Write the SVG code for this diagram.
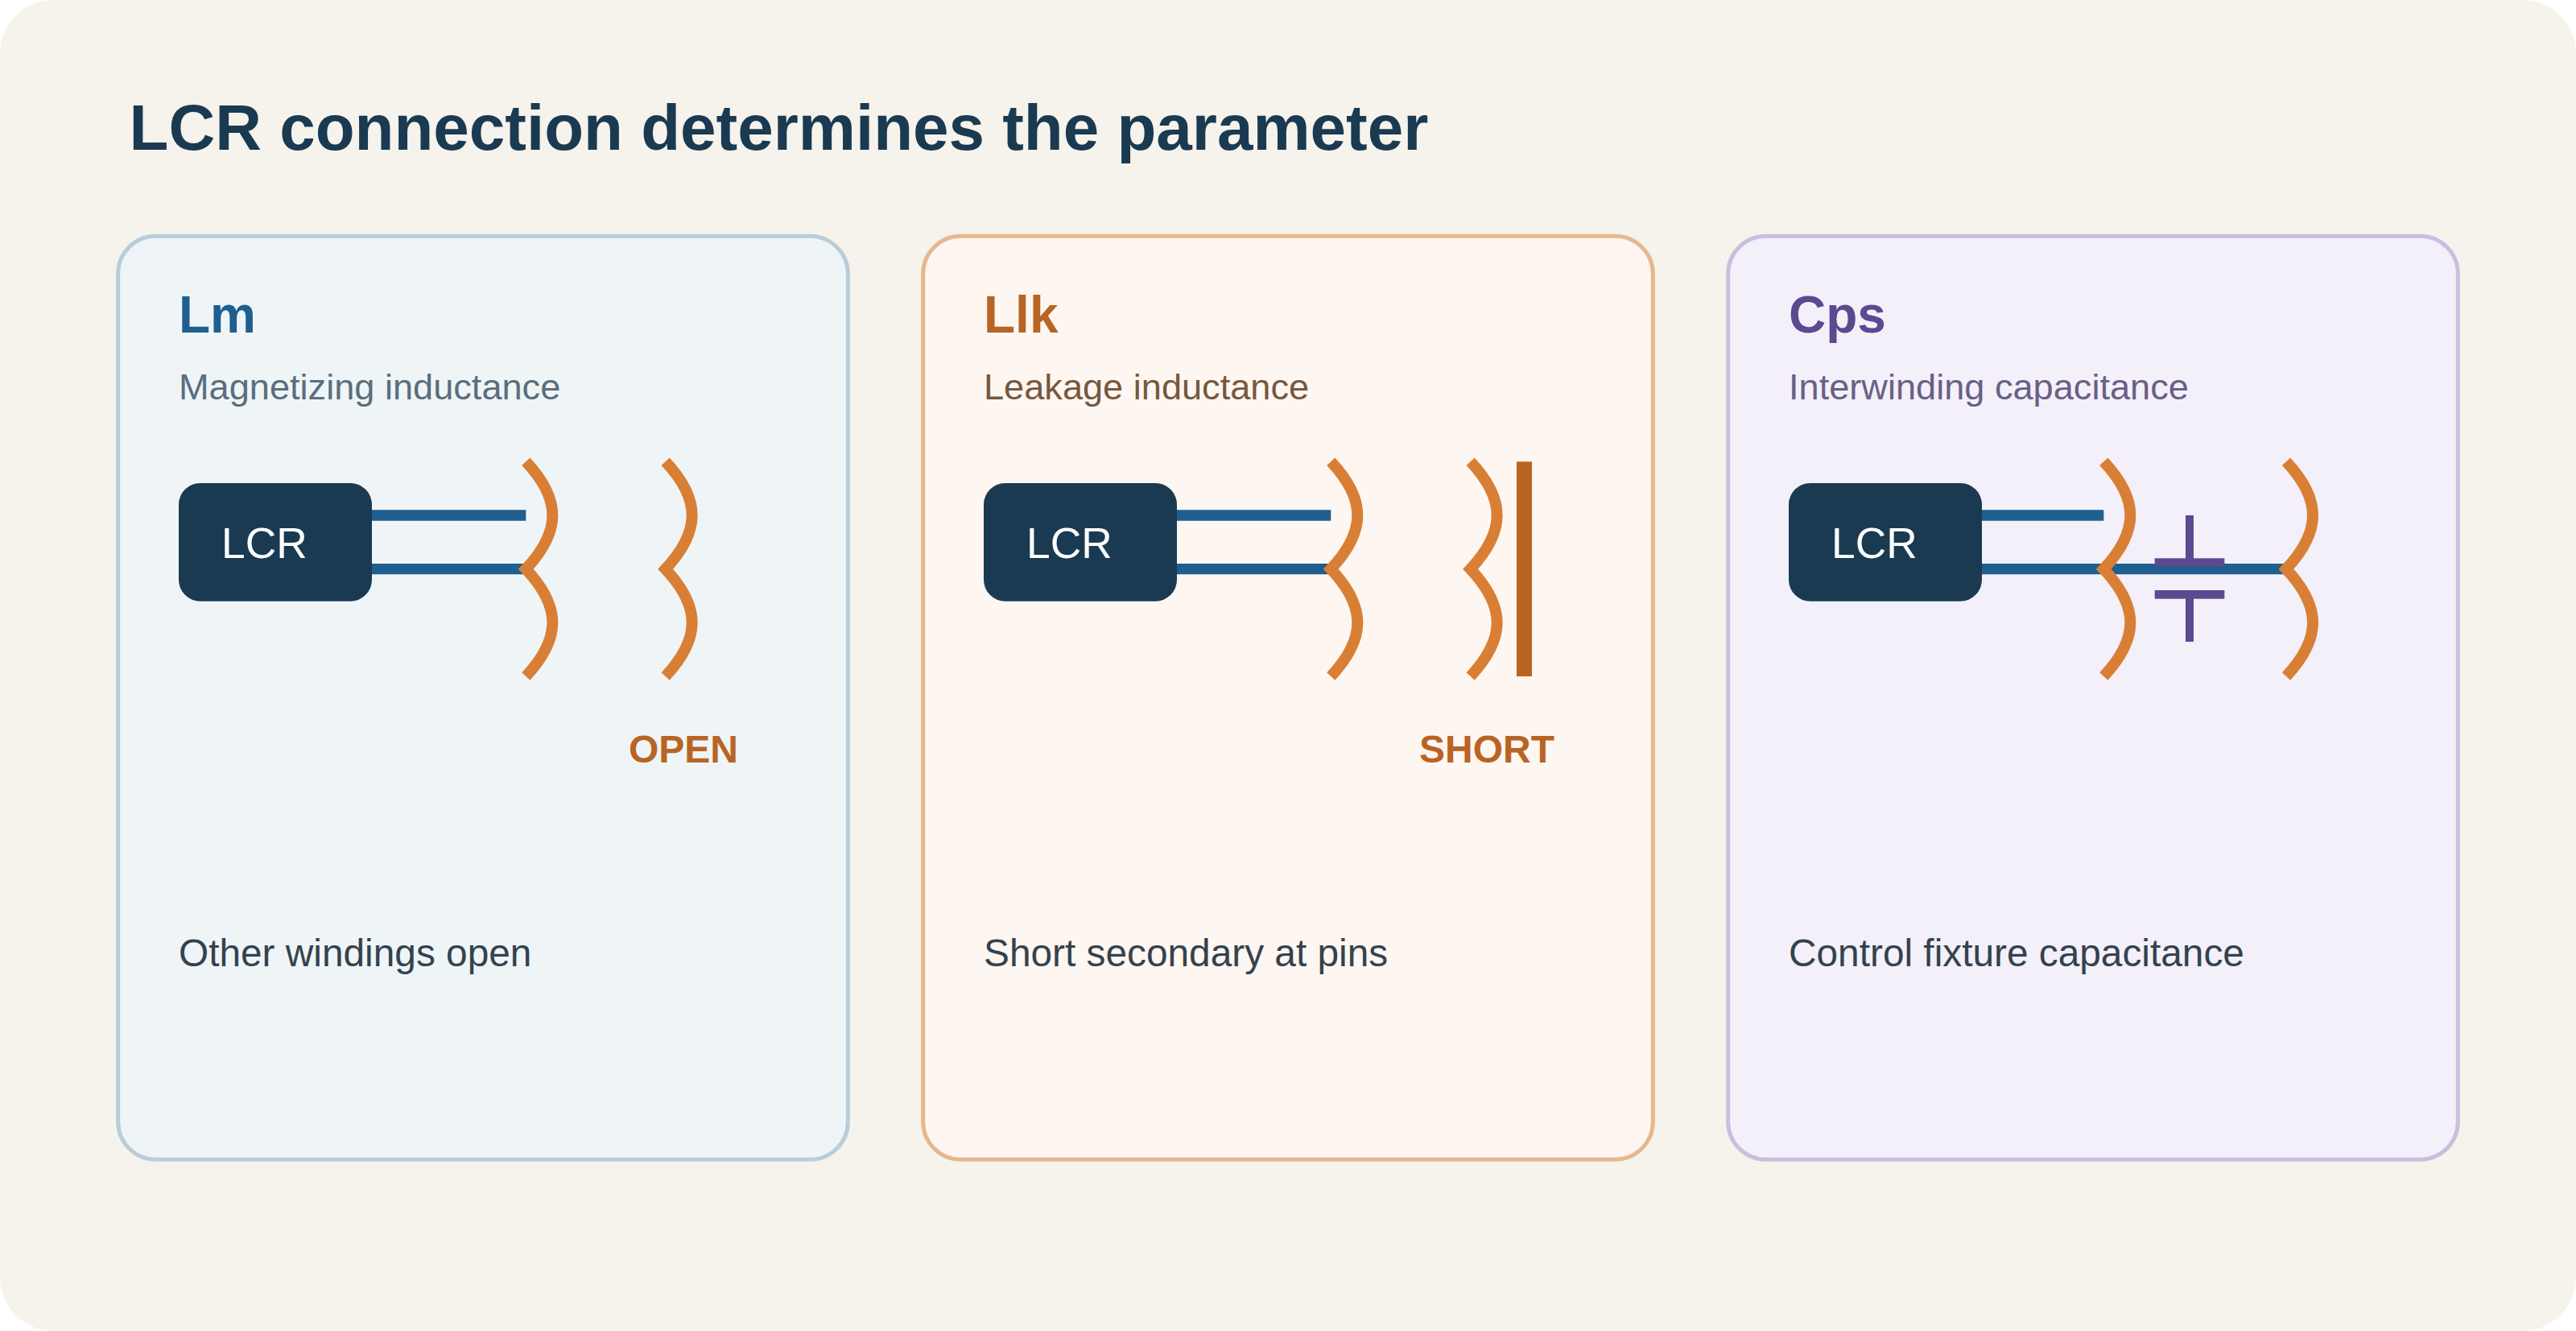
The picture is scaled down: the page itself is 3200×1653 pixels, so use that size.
<svg xmlns="http://www.w3.org/2000/svg" width="3200" height="1653" viewBox="0 0 3200 1653">
<style>
text{font-family:"Liberation Sans",Arial,sans-serif}
.title{font-size:80px;font-weight:700;fill:#1a3a52}
.head{font-size:64px;font-weight:700}
.sub{font-size:45.15px}
.note{font-size:47.8px;fill:#34424e}
.lcr{font-size:53.33px;fill:#fff}
.tag{font-size:48px;font-weight:700;fill:#b86424;text-anchor:middle}
.lead{fill:none;stroke:#1f5f8f;stroke-width:13.33}
.coil{fill:none;stroke:#d97f35;stroke-width:14;stroke-miterlimit:10}
.cap{fill:#5a4a8f}
</style>
<defs>
<path id="coil" class="coil" d="M0 0C44 47 44 86.33 0 133.33C44 180.33 44 219.67 0 266.67"/>
<rect id="box" width="240" height="146.67" rx="26.67" fill="#1a3a52"/>
</defs>
<rect id="background" width="3200" height="1653" rx="66.67" fill="#f6f3ec"/>
<text class="title" x="160.6" y="186">LCR connection determines the parameter</text>
<g id="panel-lm">
<rect x="146.67" y="293.33" width="906.67" height="1146.67" rx="46.67" fill="#eff5f7" stroke="#b8cdd9" stroke-width="5"/>
<text class="head" x="222" y="413" fill="#1f5f8f">Lm</text>
<text class="sub" x="222" y="496" fill="#5a6e7d">Magnetizing inductance</text>
<text class="note" x="222" y="1200">Other windings open</text>
</g>
<g id="panel-llk">
<rect x="1146.67" y="293.33" width="906.67" height="1146.67" rx="46.67" fill="#fef6f0" stroke="#e5b88f" stroke-width="5"/>
<text class="head" x="1222" y="413" fill="#b86424">Llk</text>
<text class="sub" x="1222" y="496" fill="#75583f">Leakage inductance</text>
<text class="note" x="1222" y="1200">Short secondary at pins</text>
</g>
<g id="panel-cps">
<rect x="2146.67" y="293.33" width="906.67" height="1146.67" rx="46.67" fill="#f3f0fa" stroke="#c8bfdf" stroke-width="5"/>
<text class="head" x="2222" y="413" fill="#5a4a8f">Cps</text>
<text class="sub" x="2222" y="496" fill="#6a5f85">Interwinding capacitance</text>
<text class="note" x="2222" y="1200">Control fixture capacitance</text>
</g>
<g id="connectors">
<path class="lead" d="M462 640H653.33M462 706.67H653.33"/>
<path class="lead" d="M1462 640H1653.33M1462 706.67H1653.33"/>
<path class="lead" d="M2462 640H2613.33M2462 706.67H2840"/>
</g>
<g id="lcr-lm"><use href="#box" x="222" y="600"/><text class="lcr" x="275" y="693">LCR</text></g>
<g id="lcr-llk"><use href="#box" x="1222" y="600"/><text class="lcr" x="1275" y="693">LCR</text></g>
<g id="lcr-cps"><use href="#box" x="2222" y="600"/><text class="lcr" x="2275" y="693">LCR</text></g>
<g id="coils-lm"><use href="#coil" x="653.33" y="573.33"/><use href="#coil" x="826.67" y="573.33"/></g>
<g id="coils-llk"><use href="#coil" x="1653.33" y="573.33"/><use href="#coil" x="1826.67" y="573.33"/></g>
<g id="coils-cps"><use href="#coil" x="2613.33" y="573.33"/><use href="#coil" x="2840" y="573.33"/></g>
<g id="open-tag"><text class="tag" x="849" y="947">OPEN</text></g>
<g id="short-tag"><rect x="1884" y="573.33" width="19" height="266.67" fill="#b86424"/><text class="tag" x="1847" y="947">SHORT</text></g>
<g id="capacitor">
<rect class="cap" x="2676.67" y="693.33" width="86.67" height="10.67"/>
<rect class="cap" x="2676.67" y="733" width="86.67" height="10.67"/>
<rect class="cap" x="2715" y="640" width="10" height="54"/>
<rect class="cap" x="2715" y="743" width="10" height="54"/>
</g>
</svg>
